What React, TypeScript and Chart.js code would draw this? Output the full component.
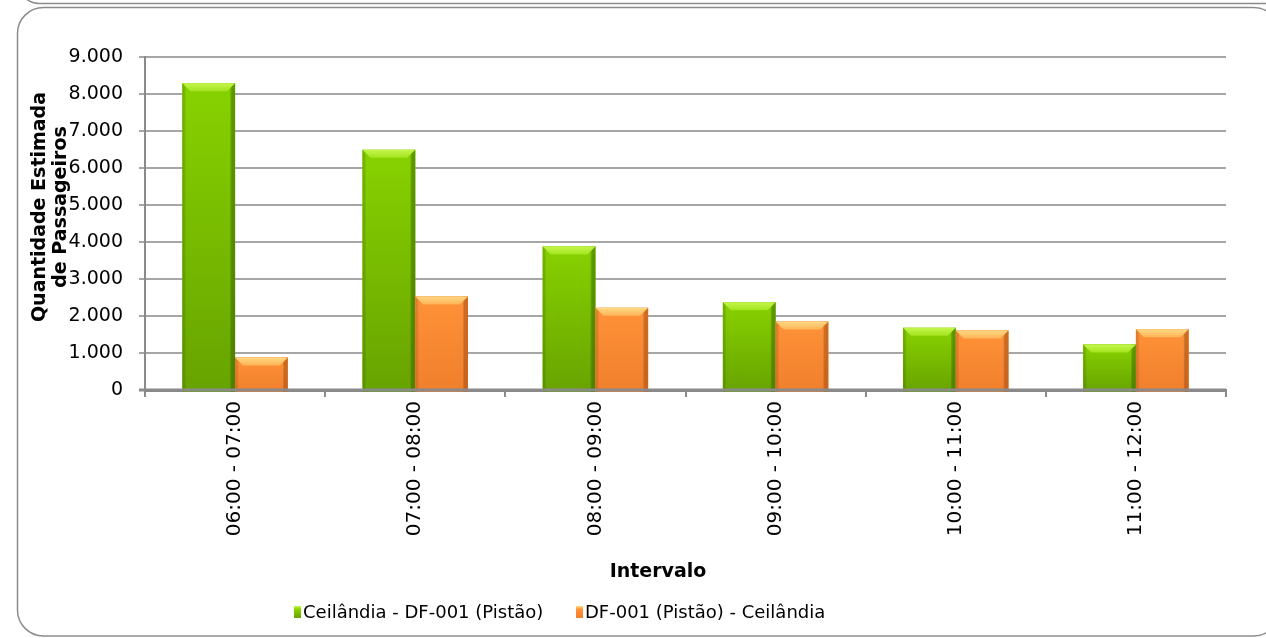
import React, { useEffect, useRef } from 'react';
import { Chart, registerables } from 'chart.js';

Chart.register(...registerables);

const categories = ['06:00 - 07:00', '07:00 - 08:00', '08:00 - 09:00', '09:00 - 10:00', '10:00 - 11:00', '11:00 - 12:00'];
const seriesNames = ['Ceilândia - DF-001 (Pistão)', 'DF-001 (Pistão) - Ceilândia'];
const ceilandiaToPistao = [8290, 6490, 3880, 2370, 1680, 1230];
const pistaoToCeilandia = [880, 2530, 2220, 1850, 1610, 1640];
const yMin = 0;
const yMax = 9000;
const yStep = 1000;
const yAxisTitle = ['Quantidade Estimada', 'de Passageiros'];
const xAxisTitle = 'Intervalo';

const FONT = '"DejaVu Sans", "Liberation Sans", sans-serif';

const palettes = [
  { bevelTop: '#c4f64c', bevelBottom: '#a2e41e', mainTop: '#88d200', mainBottom: '#67a300', edgeL: 'rgba(70,120,0,0.35)', edgeR: 'rgba(50,95,0,0.5)', solid: '#7cc300' },
  { bevelTop: '#ffd984', bevelBottom: '#ffb457', mainTop: '#ff9238', mainBottom: '#f07f2c', edgeL: 'rgba(190,90,20,0.35)', edgeR: 'rgba(160,70,10,0.5)', solid: '#ff8f33' },
];

const fmt = (v: number) => {
  const s = Math.round(v).toString();
  return s.replace(/\B(?=(\d{3})+(?!\d))/g, '.');
};

const framePlugin = {
  id: 'frame',
  beforeDraw(chart: any) {
    const ctx = chart.ctx;
    ctx.save();
    ctx.fillStyle = '#ffffff';
    ctx.fillRect(0, 0, chart.width, chart.height);
    ctx.strokeStyle = '#8c8c8c';
    ctx.lineWidth = 1.5;
    ctx.beginPath();
    (ctx as any).roundRect(17.5, -300, 1270, 303.5, 22);
    ctx.stroke();
    ctx.beginPath();
    (ctx as any).roundRect(17.5, 7.5, 1262, 628.5, 26);
    ctx.stroke();
    ctx.restore();
  },
};

const barShadePlugin = {
  id: 'barShade',
  afterDatasetsDraw(chart: any) {
    const ctx = chart.ctx;
    ctx.save();
    chart.data.datasets.forEach((_: any, di: number) => {
      const meta = chart.getDatasetMeta(di);
      const p = palettes[di];
      meta.data.forEach((bar: any) => {
        const { x, y, base, width } = bar.getProps(['x', 'y', 'base', 'width'], true);
        const l = x - width / 2;
        const r = x + width / 2;
        const t = y;
        const b = base + 3;
        const g = ctx.createLinearGradient(0, t, 0, b);
        g.addColorStop(0, p.mainTop);
        g.addColorStop(1, p.mainBottom);
        ctx.fillStyle = g;
        ctx.fillRect(l, t, r - l, b - t);
        const hg = ctx.createLinearGradient(l, 0, r, 0);
        hg.addColorStop(0, p.edgeL);
        hg.addColorStop(0.07, 'rgba(0,0,0,0)');
        hg.addColorStop(0.9, 'rgba(0,0,0,0)');
        hg.addColorStop(0.95, p.edgeR);
        hg.addColorStop(1, p.edgeR);
        ctx.fillStyle = hg;
        ctx.fillRect(l, t, r - l, b - t);
        const bh = Math.min(8, (b - t) / 3);
        const bg = ctx.createLinearGradient(0, t, 0, t + bh);
        bg.addColorStop(0, p.bevelTop);
        bg.addColorStop(1, p.bevelBottom);
        ctx.fillStyle = bg;
        ctx.beginPath();
        ctx.moveTo(l, t);
        ctx.lineTo(r, t);
        ctx.lineTo(r - 8, t + bh);
        ctx.lineTo(l + 8, t + bh);
        ctx.closePath();
        ctx.fill();
      });
    });
    const y0 = chart.scales.y.getPixelForValue(0);
    ctx.strokeStyle = '#8a8a8a';
    ctx.lineWidth = 3;
    ctx.beginPath();
    ctx.moveTo(chart.chartArea.left - 6, y0);
    ctx.lineTo(chart.chartArea.right, y0);
    ctx.stroke();
    ctx.restore();
  },
};

const textPlugin = {
  id: 'texts',
  afterDraw(chart: any) {
    const ctx = chart.ctx;
    ctx.save();
    ctx.fillStyle = '#000000';
    ctx.font = `bold 19px ${FONT}`;
    ctx.textAlign = 'center';
    ctx.textBaseline = 'alphabetic';
    const cy = 207;
    yAxisTitle.forEach((line, i) => {
      ctx.save();
      ctx.translate(0, cy);
      ctx.rotate(-Math.PI / 2);
      ctx.fillText(line, 0, 45 + i * 21);
      ctx.restore();
    });
    ctx.textBaseline = 'middle';
    ctx.fillText(xAxisTitle, 658, 572);
    ctx.font = `18px ${FONT}`;
    ctx.textAlign = 'left';
    const legendX = [294, 576];
    const ly = 612;
    seriesNames.forEach((name, i) => {
      const p = palettes[i];
      const bx = legendX[i];
      const g = ctx.createLinearGradient(0, ly - 6, 0, ly + 6);
      g.addColorStop(0, p.bevelTop);
      g.addColorStop(0.3, p.mainTop);
      g.addColorStop(1, p.mainBottom);
      ctx.fillStyle = g;
      ctx.fillRect(bx, ly - 6, 7, 12);
      ctx.fillStyle = '#000000';
      ctx.fillText(name, bx + 9, ly + 1);
    });
    ctx.restore();
  },
};

export default function App() {
  const ref = useRef<HTMLCanvasElement | null>(null);
  useEffect(() => {
    document.body.style.margin = '0';
    const canvas = ref.current;
    if (!canvas) return;
    const chart = new Chart(canvas, {
      type: 'bar',
      data: {
        labels: categories,
        datasets: [
          { label: seriesNames[0], data: ceilandiaToPistao, backgroundColor: palettes[0].solid, borderWidth: 0 },
          { label: seriesNames[1], data: pistaoToCeilandia, backgroundColor: palettes[1].solid, borderWidth: 0 },
        ],
      },
      options: {
        responsive: false,
        animation: false,
        devicePixelRatio: 1,
        layout: { padding: { top: 57, right: 40, left: 0, bottom: 0 } },
        datasets: { bar: { categoryPercentage: 0.585, barPercentage: 1 } },
        plugins: { legend: { display: false }, tooltip: { enabled: false }, title: { display: false } },
        scales: {
          x: {
            afterFit: (s: any) => { s.height = 248; },
            grid: { display: true, drawOnChartArea: false, drawTicks: true, tickLength: 7, color: '#8a8a8a', lineWidth: 2, offset: true },
            border: { display: true, color: '#8a8a8a', width: 3 },
            ticks: { minRotation: 90, maxRotation: 90, padding: 4, color: '#000', font: { family: FONT, size: 20 } },
          },
          y: {
            min: yMin,
            max: yMax,
            afterFit: (s: any) => { s.width = 145; },
            grid: { color: '#a6a6a6', lineWidth: 2, tickLength: 6, drawTicks: true },
            border: { display: true, color: '#8a8a8a', width: 2 },
            ticks: { stepSize: yStep, padding: 16, color: '#000', font: { family: FONT, size: 19 }, callback: (v: any) => fmt(Number(v)) },
          },
        },
      },
      plugins: [framePlugin, barShadePlugin, textPlugin],
    });
    return () => chart.destroy();
  }, []);
  return <canvas ref={ref} width={1266} height={638} style={{ display: 'block' }} />;
}
